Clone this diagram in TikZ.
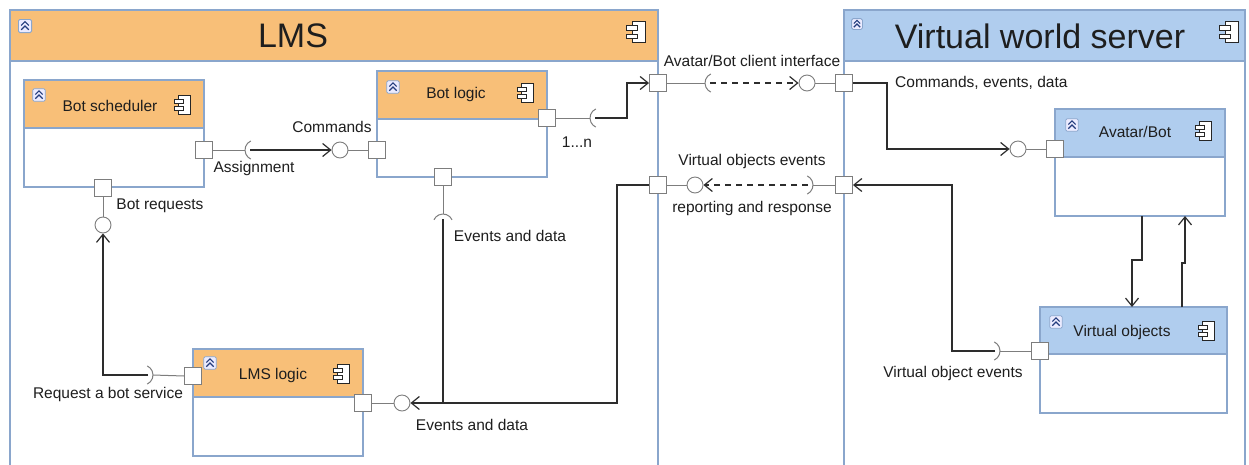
\documentclass[tikz,border=0pt]{standalone}
\usepackage{fontspec}
\setmainfont{Liberation Sans}
\usetikzlibrary{arrows.meta}
\definecolor{orh}{RGB}{248,191,120}
\definecolor{blh}{RGB}{176,205,238}
\definecolor{bord}{RGB}{138,166,204}
\definecolor{portc}{RGB}{125,125,125}
\definecolor{linec}{RGB}{45,45,45}
\definecolor{chev}{RGB}{35,60,125}
\definecolor{txt}{RGB}{30,30,30}

\newcommand\ucomp[6]{% x1 y1 x2 yh y2 fill
  \filldraw[fill=white, draw=bord, line width=1.2pt] (#1,#2) rectangle (#3,#5);
  \filldraw[fill=#6, draw=bord, line width=1.2pt] (#1,#2) rectangle (#3,#4);
}
\newcommand\compicon[3]{% x y scale
  \begin{scope}[shift={(#1,#2)}, scale=#3]
    \filldraw[fill=white, draw=black!85, line width=0.9pt] (-3,-8) rectangle (7,8);
    \filldraw[fill=white, draw=black!85, line width=0.9pt] (-7,-5) rectangle (1,-1.5);
    \filldraw[fill=white, draw=black!85, line width=0.9pt] (-7,1.5) rectangle (1,5);
  \end{scope}
}
\newcommand\collicon[3]{% x y scale
  \begin{scope}[shift={(#1,#2)}, scale=#3]
    \filldraw[fill=white!92!blue, draw=bord, line width=0.8pt, rounded corners=1.5pt] (-6,-6) rectangle (6,6);
    \draw[chev, line width=1.1pt] (-3.5,-0.5) -- (0,-4) -- (3.5,-0.5);
    \draw[chev, line width=1.1pt] (-3.5,3.5) -- (0,0) -- (3.5,3.5);
  \end{scope}
}
\newcommand\sockarc[4]{% cx cy start end
  \draw[stub] ([shift={(#3:10pt)}]#1,#2) arc (#3:#4:10pt);
}

\begin{document}
\begin{tikzpicture}[x=1pt,y=-1pt,
  port/.style={draw=portc, fill=white, minimum size=17pt, inner sep=0pt, line width=0.9pt},
  ball/.style={circle, draw=portc, fill=white, minimum size=16pt, inner sep=0pt, line width=0.9pt},
  conn/.style={draw=linec, line width=1.3pt},
  stub/.style={draw=portc, line width=1pt},
  arrowst/.style={-{Straight Barb[length=8pt,width=13pt,line width=1.2pt]}},
  lbl/.style={font=\fontsize{15.5}{18}\selectfont, text=txt, inner sep=0pt},
  ttl/.style={font=\fontsize{34}{40}\selectfont, text=txt, inner sep=0pt}
]
\useasboundingbox (0,0) rectangle (1249,464);
\fill[white] (0,0) rectangle (1249,464);

% containers
\begin{scope}
\clip (0,0) rectangle (1249,464);
\filldraw[fill=white, draw=bord, line width=1.5pt] (10,10) rectangle (658,480);
\filldraw[fill=orh, draw=bord, line width=1.5pt] (10,10) rectangle (658,61);
\filldraw[fill=white, draw=bord, line width=1.5pt] (844,10) rectangle (1245,480);
\filldraw[fill=blh, draw=bord, line width=1.5pt] (844,10) rectangle (1245,61);
\end{scope}
\node[ttl] (lmst) at (293,36) {LMS};
\node[ttl] (vwst) at (1040,36) {Virtual world server};
\collicon{25}{26}{1.1}
\compicon{636}{32}{1.3}
\collicon{857}{24}{0.9}
\compicon{1229}{32}{1.3}

% components
\ucomp{24}{80}{204}{128}{187}{orh}
\node[lbl] (bst) at (110,106) {Bot scheduler};
\compicon{182}{105}{1.15}
\collicon{39}{95}{1.05}

\ucomp{377}{71}{547}{119}{177}{orh}
\node[lbl] (blt) at (456,94) {Bot logic};
\compicon{525}{93}{1.15}
\collicon{393}{87}{1.05}

\ucomp{193}{349}{363}{397}{456}{orh}
\node[lbl] (llt) at (273,375) {LMS logic};
\compicon{341}{374}{1.15}
\collicon{210}{363}{1.05}

\ucomp{1055}{109}{1225}{157}{216}{blh}
\node[lbl] (abt) at (1135,132) {Avatar/Bot};
\compicon{1203}{131}{1.15}
\collicon{1072}{125}{1.05}

\ucomp{1040}{307}{1227}{354}{413}{blh}
\node[lbl] (vot) at (1122,332) {Virtual objects};
\compicon{1206}{331}{1.15}
\collicon{1056}{322}{1.05}

% ports
\node[port] (bsR) at (204,150) {};
\node[port] (bsB) at (103,188) {};
\node[port] (blL) at (377,150) {};
\node[port] (blR) at (547,118) {};
\node[port] (blB) at (443,177) {};
\node[port] (llL) at (193,376) {};
\node[port] (llR) at (363,403) {};
\node[port] (abL) at (1055,149) {};
\node[port] (voL) at (1040,351) {};
\node[port] (pA) at (658,83) {};
\node[port] (pB) at (658,185) {};
\node[port] (pC) at (844,83) {};
\node[port] (pD) at (844,185) {};

% balls
\node[ball] (bCmd) at (340,150) {};
\node[ball] (bReq) at (103,225) {};
\node[ball] (bEv) at (402,403) {};
\node[ball] (bAvi) at (807,83) {};
\node[ball] (bVoe) at (695,185) {};
\node[ball] (bAb) at (1018,149) {};

% socket apex / connector start coordinates
\coordinate (sAsA) at (245,150); \coordinate (sAsC) at (250,150);
\coordinate (sBlA) at (590,118); \coordinate (sBlC) at (595,118);
\coordinate (sBbA) at (443,214); \coordinate (sBbC) at (443,219);
\coordinate (sAvA) at (705,83);  \coordinate (sAvC) at (710,83);
\coordinate (sVeA) at (813,185); \coordinate (sVeC) at (808,185);
\coordinate (sRqA) at (153,375); \coordinate (sRqC) at (148,375);
\coordinate (sVoA) at (1000,351); \coordinate (sVoC) at (995,351);
\coordinate (j1) at (627,118);
\coordinate (j2) at (887,83);
\coordinate (j3) at (952,351);
\coordinate (j4) at (617,185);
\coordinate (ab1) at (1142,216); \coordinate (ab2) at (1142,260); \coordinate (ab3) at (1132,260); \coordinate (vo1) at (1132,307);
\coordinate (vo2) at (1182,307); \coordinate (vo3) at (1182,263); \coordinate (ab4) at (1185,263); \coordinate (ab5) at (1185,216);

% socket arcs
\sockarc{255}{150}{115}{245}
\sockarc{600}{118}{115}{245}
\sockarc{443}{224}{25}{155}
\sockarc{715}{83}{115}{245}
\sockarc{803}{185}{-65}{65}
\sockarc{143}{375}{-65}{65}
\sockarc{990}{351}{-65}{65}

% stubs
\draw[stub] (bsR.east) -- (sAsA);
\draw[stub] (bCmd.east) -- (blL.west);
\draw[stub] (blR.east) -- (sBlA);
\draw[stub] (blB.south) -- (sBbA);
\draw[stub] (pA.east) -- (sAvA);
\draw[stub] (bAvi.east) -- (pC.west);
\draw[stub] (pD.west) -- (sVeA);
\draw[stub] (bVoe.west) -- (pB.east);
\draw[stub] (bAb.east) -- (abL.west);
\draw[stub] (voL.west) -- (sVoA);
\draw[stub] (llL.west) -- (sRqA);
\draw[stub] (llR.east) -- (bEv.west);
\draw[stub] (bsB.south) -- (bReq.north);

% connectors
\draw[conn, arrowst] (sAsC) -- (bCmd.west);
\draw[conn, arrowst] (sBlC) -- (j1) |- (pA.west);
\draw[conn, arrowst, dashed, dash pattern=on 6pt off 5pt] (sAvC) -- (bAvi.west);
\draw[conn, arrowst] (pC.east) -- (j2) |- (bAb.west);
\draw[conn, arrowst] (sVoC) -- (j3) |- (pD.east);
\draw[conn, arrowst, dashed, dash pattern=on 6pt off 5pt] (sVeC) -- (bVoe.east);
\draw[conn, arrowst] (pB.west) -- (j4) |- (bEv.east);
\draw[conn] (sBbC) -- (sBbC |- bEv);
\draw[conn, arrowst] (sRqC) -| (bReq.south);
\draw[conn, arrowst] (ab1) -- (ab2) -- (ab3) -- (vo1);
\draw[conn, arrowst] (vo2) -- (vo3) -- (ab4) -- (ab5);

% labels
\node[lbl] (lCmd) at (332,127) {Commands};
\node[lbl] (lAs) at (254,168) {Assignment};
\node[lbl] (lBr) at (160,206) {Bot requests};
\node[lbl] (l1n) at (577,142) {1...n};
\node[lbl] (lEd1) at (510,236) {Events and data};
\node[lbl] (lEd2) at (472,425) {Events and data};
\node[lbl] (lRq) at (108,394) {Request a bot service};
\node[lbl] (lAv) at (752,61) {Avatar/Bot client interface};
\node[lbl, anchor=west] (lCed) at (895,83) {Commands, events, data};
\node[lbl] (lVoe1) at (752,161) {Virtual objects events};
\node[lbl] (lVoe2) at (752,208) {reporting and response};
\node[lbl] (lVo) at (953,373) {Virtual object events};
\end{tikzpicture}
\end{document}
